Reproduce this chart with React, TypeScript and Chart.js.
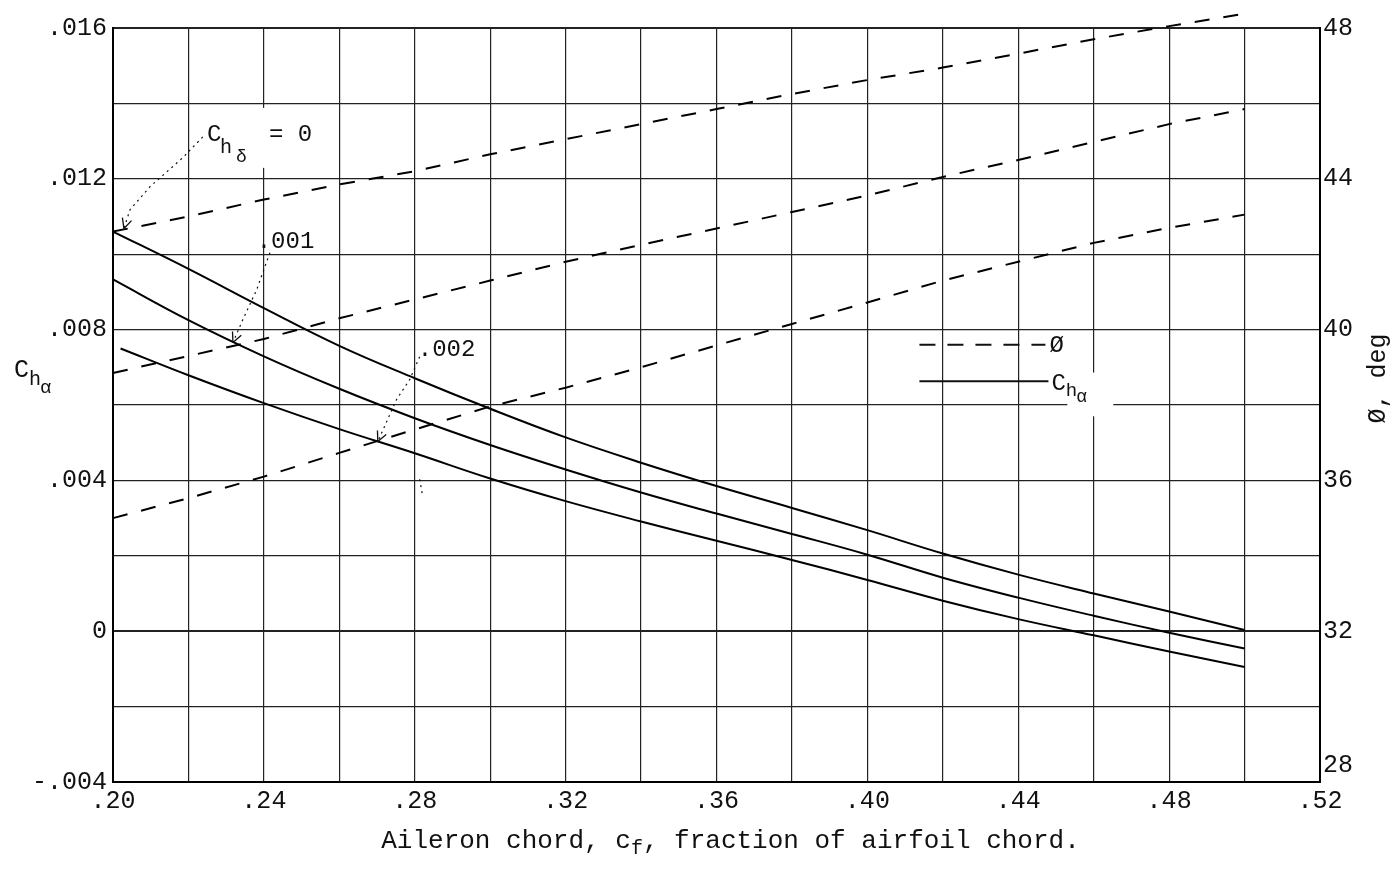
import { useEffect, useRef } from 'react';
import { Chart, registerables } from 'chart.js';

Chart.register(...registerables);

// ---------------- data ----------------
const chordX = [0.2, 0.22, 0.24, 0.26, 0.28, 0.3, 0.32, 0.34, 0.36, 0.38, 0.4, 0.42, 0.44, 0.46, 0.48, 0.5];
const chordXLow = [0.202, 0.22, 0.24, 0.26, 0.28, 0.3, 0.32, 0.34, 0.36, 0.38, 0.4, 0.42, 0.44, 0.46, 0.48, 0.5];

// C_h_alpha for C_h_delta = 0, .001, .002
const chAlphaZero = [0.0106, 0.00961, 0.00857, 0.00757, 0.00671, 0.0059, 0.00514, 0.00447, 0.00385, 0.00327, 0.00268, 0.00206, 0.0015, 0.001, 0.00052, 0.00003];
const chAlphaOne = [0.00933, 0.00825, 0.00729, 0.00643, 0.00565, 0.00494, 0.00429, 0.00368, 0.00312, 0.00258, 0.00203, 0.00142, 0.00089, 0.00041, -0.00004, -0.00046];
const chAlphaTwo = [0.0075, 0.00679, 0.00605, 0.00536, 0.00472, 0.00405, 0.00345, 0.00291, 0.0024, 0.00189, 0.00136, 0.00081, 0.00032, -0.00011, -0.00054, -0.00095];

// phi, deg for C_h_delta = 0, .001, .002
const phiZero = [42.6, 43.0, 43.45, 43.85, 44.2, 44.65, 45.05, 45.45, 45.85, 46.25, 46.62, 46.95, 47.32, 47.7, 48.05, 48.38];
const phiOne = [38.85, 39.3, 39.75, 40.3, 40.8, 41.3, 41.8, 42.25, 42.68, 43.12, 43.56, 44.05, 44.5, 44.98, 45.45, 45.85];
const phiTwo = [35.0, 35.53, 36.1, 36.73, 37.35, 37.96, 38.46, 39.0, 39.58, 40.15, 40.72, 41.3, 41.8, 42.3, 42.7, 43.05];

// axis ranges / ticks
const xRange = [0.2, 0.52];
const chRange = [-0.004, 0.016];
const phiRange = [28, 48];
const xStep = 0.02;
const chStep = 0.002;
const phiStep = 2;

// ---------------- annotation geometry (data units) ----------------
const leaderZero = [[0.2238, 0.01311], [0.2185, 0.01256], [0.2098, 0.01179], [0.2045, 0.01118], [0.2029, 0.01068]];
const leaderOne = [[0.2416, 0.01004], [0.2381, 0.00906], [0.2344, 0.00826], [0.2318, 0.00766]];
const leaderTwo = [[0.2813, 0.00728], [0.2787, 0.00668], [0.2752, 0.00615], [0.2702, 0.00503]];
const leaderTwoStub = [[0.2813, 0.00403], [0.2821, 0.00358]];

const FONT = '"Liberation Mono", "DejaVu Sans Mono", monospace';
const INK = '#111';

function pts(xs: number[], ys: number[]) {
  return xs.map((x, i) => ({ x, y: ys[i] }));
}

type Part = { t: string; size: number; dy?: number; gap?: number };

function drawRuns(ctx: CanvasRenderingContext2D, x: number, y: number, parts: Part[]) {
  let cx = x;
  for (const p of parts) {
    ctx.font = `${p.size}px ${FONT}`;
    ctx.fillText(p.t, cx, y + (p.dy || 0));
    cx += ctx.measureText(p.t).width + (p.gap || 0);
  }
  return cx - x;
}

function measureRuns(ctx: CanvasRenderingContext2D, parts: Part[]) {
  let w = 0;
  for (const p of parts) {
    ctx.font = `${p.size}px ${FONT}`;
    w += ctx.measureText(p.t).width + (p.gap || 0);
  }
  return w;
}

const annotations = {
  id: 'nacaAnnotations',
  beforeDatasetsDraw(chart: any) {
    const { ctx } = chart;
    const X = chart.scales.x;
    const Y = chart.scales.y;
    const box = (x1: number, x2: number, y1: number, y2: number) => {
      const a = X.getPixelForValue(x1), b = X.getPixelForValue(x2);
      const c = Y.getPixelForValue(y1), d = Y.getPixelForValue(y2);
      ctx.fillRect(Math.min(a, b), Math.min(c, d), Math.abs(b - a), Math.abs(d - c));
    };
    ctx.save();
    ctx.fillStyle = '#fff';
    box(0.2238, 0.2554, 0.01388, 0.01229);
    box(0.453, 0.4652, 0.00686, 0.0057);
    ctx.restore();
  },
  afterDatasetsDraw(chart: any) {
    const { ctx } = chart;
    const X = chart.scales.x;
    const Y = chart.scales.y;
    const Y2 = chart.scales.y2;
    const P = (p: number[]) => [X.getPixelForValue(p[0]), Y.getPixelForValue(p[1])];

    ctx.save();
    ctx.fillStyle = INK;
    ctx.strokeStyle = INK;
    ctx.textBaseline = 'alphabetic';
    ctx.textAlign = 'left';

    // leaders
    const leader = (list: number[][], arrow: boolean) => {
      const p = list.map(P);
      ctx.save();
      ctx.lineWidth = 1.2;
      ctx.setLineDash([2, 4]);
      ctx.beginPath();
      ctx.moveTo(p[0][0], p[0][1]);
      for (let i = 1; i < p.length; i++) ctx.lineTo(p[i][0], p[i][1]);
      ctx.stroke();
      ctx.setLineDash([]);
      if (arrow) {
        const [x2, y2] = p[p.length - 1];
        const [x1, y1] = p[p.length - 2];
        const ang = Math.atan2(y2 - y1, x2 - x1);
        ctx.lineWidth = 1.3;
        ctx.beginPath();
        for (const s of [-0.45, 0.45]) {
          ctx.moveTo(x2, y2);
          ctx.lineTo(x2 - 11 * Math.cos(ang + s), y2 - 11 * Math.sin(ang + s));
        }
        ctx.stroke();
      }
      ctx.restore();
    };
    leader(leaderZero, true);
    leader(leaderOne, true);
    leader(leaderTwo, true);
    leader(leaderTwoStub, false);

    // C_h_delta = 0 label
    const [lx, ly] = P([0.2249, 0.013]);
    ctx.font = `24px ${FONT}`;
    ctx.fillText('C', lx, ly);
    ctx.font = `20px ${FONT}`;
    ctx.fillText('h', lx + 13, ly + 12);
    ctx.font = `18px ${FONT}`;
    ctx.fillText('\u03b4', lx + 29, ly + 21);
    ctx.font = `24px ${FONT}`;
    ctx.fillText('= 0', lx + 62, ly);

    const [ax, ay] = P([0.2381, 0.01017]);
    ctx.fillText('.001', ax, ay);
    const [bx, by] = P([0.2808, 0.00731]);
    ctx.fillText('.002', bx, by);

    // in-plot legend
    const [g1x, g1y] = P([0.4138, 0.0076]);
    const [g2x] = P([0.4472, 0.0076]);
    ctx.save();
    ctx.lineWidth = 2;
    ctx.setLineDash([16, 12]);
    ctx.beginPath();
    ctx.moveTo(g1x, g1y);
    ctx.lineTo(g2x, g1y);
    ctx.stroke();
    ctx.restore();
    ctx.font = `24px ${FONT}`;
    ctx.fillText('\u00d8', g2x + 4, g1y + 7);

    const [s1x, s1y] = P([0.4138, 0.00663]);
    const [s2x] = P([0.448, 0.00663]);
    ctx.save();
    ctx.lineWidth = 2;
    ctx.beginPath();
    ctx.moveTo(s1x, s1y);
    ctx.lineTo(s2x, s1y);
    ctx.stroke();
    ctx.restore();
    drawRuns(ctx, s2x + 3, s1y + 9, [
      { t: 'C', size: 24 },
      { t: 'h', size: 19, dy: 6, gap: -1 },
      { t: '\u03b1', size: 18, dy: 12 },
    ]);

    // axis titles
    const ca = chart.chartArea;
    // left: C_h_alpha
    drawRuns(ctx, 14, Y.getPixelForValue(0.00675), [
      { t: 'C', size: 25 },
      { t: 'h', size: 20, dy: 8, gap: -1 },
      { t: '\u03b1', size: 19, dy: 16 },
    ]);

    // right axis bottom label, lifted off the corner as in the original
    ctx.font = `25px ${FONT}`;
    ctx.textBaseline = 'middle';
    ctx.fillText(String(phiRange[0]), ca.right + 3, Y2.getPixelForValue(phiRange[0] + 0.45));
    ctx.textBaseline = 'alphabetic';

    // right: phi, deg (rotated)
    ctx.save();
    ctx.translate(1378, Y.getPixelForValue(0.0067));
    ctx.rotate(-Math.PI / 2);
    ctx.font = `25px ${FONT}`;
    ctx.textAlign = 'center';
    ctx.textBaseline = 'middle';
    ctx.fillText('\u00d8, deg', 0, 0);
    ctx.restore();

    // bottom title
    const parts: Part[] = [
      { t: 'Aileron chord, c', size: 26 },
      { t: 'f', size: 20, dy: 6 },
      { t: ', fraction of airfoil chord.', size: 26 },
    ];
    const w = measureRuns(ctx, parts);
    const cx = (ca.left + ca.right) / 2 + 14;
    drawRuns(ctx, cx - w / 2, ca.bottom + 66, parts);

    ctx.restore();
  },
};

export default function App() {
  const ref = useRef<HTMLCanvasElement | null>(null);

  useEffect(() => {
    const canvas = ref.current;
    if (!canvas) return;

    const solid = (data: number[], xs: number[]) => ({
      data: pts(xs, data),
      yAxisID: 'y',
      borderColor: '#000',
      borderWidth: 2,
      pointRadius: 0,
      tension: 0.4,
      fill: false,
    });
    const dashed = (data: number[]) => ({
      data: pts(chordX, data),
      yAxisID: 'y2',
      borderColor: '#000',
      borderWidth: 2,
      borderDash: [15, 14],
      pointRadius: 0,
      tension: 0,
      fill: false,
      clip: false as const,
    });

    const edgeWidth = (lo: number, hi: number) => (c: any) => {
      const v = c.tick ? c.tick.value : NaN;
      if (Math.abs(v - lo) < 1e-9 || Math.abs(v - hi) < 1e-9) return 2;
      if (Math.abs(v) < 1e-9) return 2;
      return 1.2;
    };

    const chart = new Chart(canvas, {
      type: 'line',
      data: {
        datasets: [
          solid(chAlphaZero, chordX),
          solid(chAlphaOne, chordX),
          solid(chAlphaTwo, chordXLow),
          dashed(phiZero),
          dashed(phiOne),
          dashed(phiTwo),
        ] as any,
      },
      options: {
        responsive: false,
        maintainAspectRatio: false,
        animation: false,
        devicePixelRatio: 1,
        layout: { padding: { top: 28, left: 0, right: 0, bottom: 0 } },
        plugins: {
          legend: { display: false },
          tooltip: { enabled: false },
          title: { display: false },
        },
        scales: {
          x: {
            type: 'linear',
            min: xRange[0],
            max: xRange[1],
            afterFit: (s: any) => { s.height = 99; },
            grid: {
              color: '#222',
              lineWidth: edgeWidth(xRange[0], xRange[1]) as any,
              drawTicks: false,
            },
            border: { display: true, color: '#000', width: 2 },
            ticks: {
              stepSize: xStep,
              autoSkip: false,
              maxRotation: 0,
              padding: 4,
              color: INK,
              font: { family: FONT, size: 25 },
              callback: (v: any) => {
                const k = Math.round(Number(v) * 100);
                return k % 4 === 0 ? '.' + k : '';
              },
            },
          },
          y: {
            type: 'linear',
            position: 'left',
            min: chRange[0],
            max: chRange[1],
            afterFit: (s: any) => { s.width = 113; },
            grid: {
              color: '#222',
              lineWidth: edgeWidth(chRange[0], chRange[1]) as any,
              drawTicks: false,
            },
            border: { display: true, color: '#000', width: 2 },
            ticks: {
              stepSize: chStep,
              autoSkip: false,
              padding: 6,
              color: INK,
              font: { family: FONT, size: 25 },
              callback: (v: any) => {
                const k = Math.round(Number(v) * 1000);
                if (k % 4 !== 0) return '';
                if (k === 0) return '0';
                return (k < 0 ? '-' : '') + '.' + String(Math.abs(k)).padStart(3, '0');
              },
            },
          },
          y2: {
            type: 'linear',
            position: 'right',
            min: phiRange[0],
            max: phiRange[1],
            afterFit: (s: any) => { s.width = 75; },
            grid: { display: false, drawTicks: false },
            border: { display: true, color: '#000', width: 2 },
            ticks: {
              stepSize: phiStep,
              autoSkip: false,
              padding: 3,
              color: INK,
              font: { family: FONT, size: 25 },
              callback: (v: any) => {
                const k = Math.round(Number(v));
                if (k === phiRange[0]) return '';
                return k % 4 === 0 ? String(k) : '';
              },
            },
          },
        },
      },
      plugins: [annotations],
    });

    return () => chart.destroy();
  }, []);

  return (
    <div style={{ position: 'absolute', left: 0, top: 0, width: 1395, height: 881, background: '#fff' }}>
      <canvas ref={ref} width={1395} height={881} style={{ display: 'block', width: 1395, height: 881 }} />
    </div>
  );
}
